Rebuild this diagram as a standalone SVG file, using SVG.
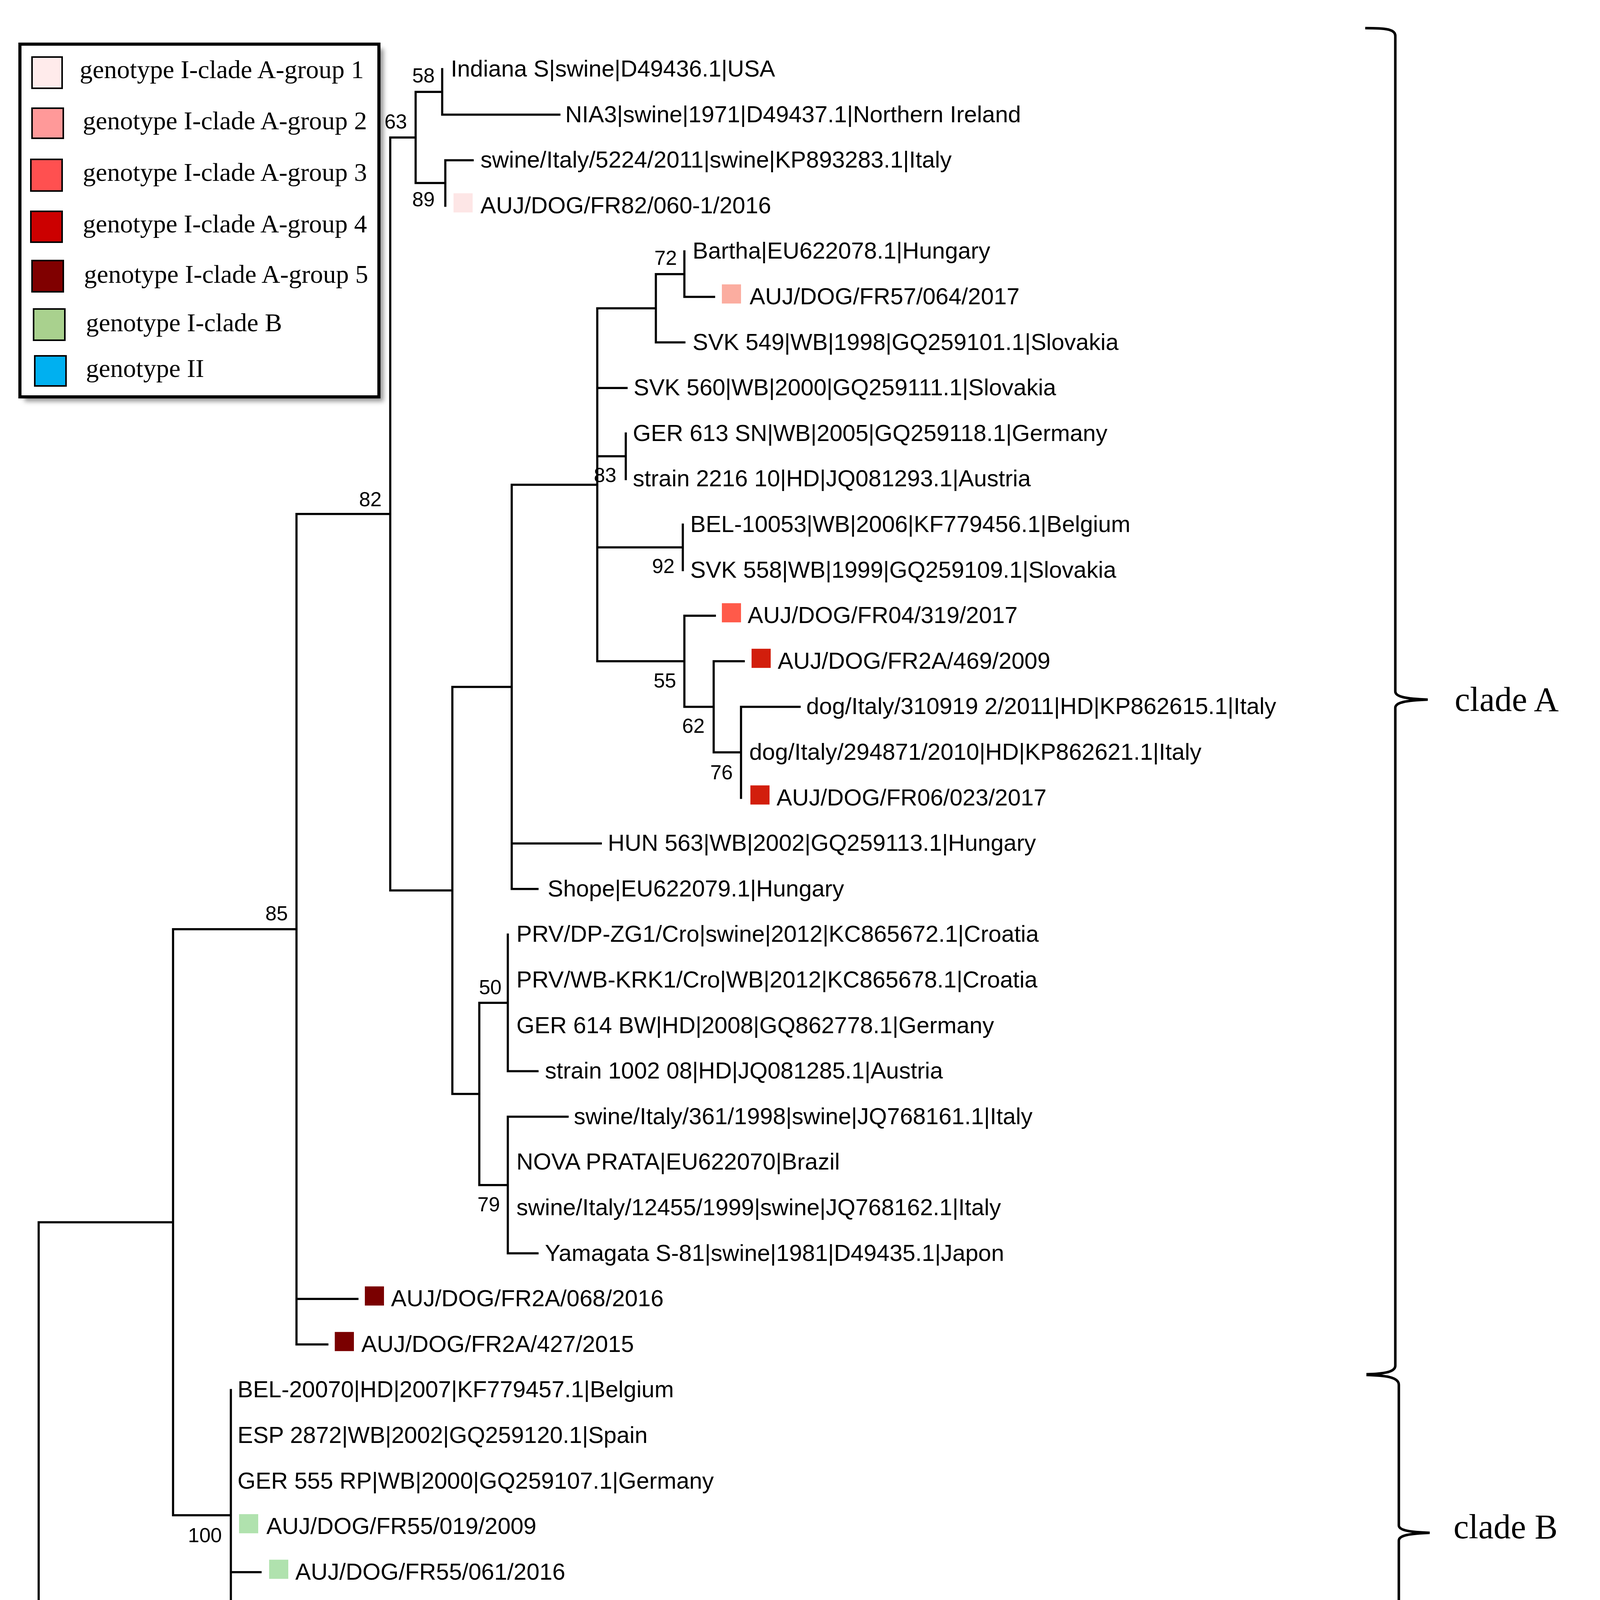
<svg xmlns="http://www.w3.org/2000/svg" width="4310" height="5361" viewBox="0 0 4310 5361">
<style>
.br{stroke:#000;stroke-width:5.5;fill:none;stroke-linecap:square}
.lf{font-family:"Liberation Sans",Arial,sans-serif;font-size:59.5px;fill:#000}
.bs{font-family:"Liberation Sans",Arial,sans-serif;font-size:52px;fill:#000;text-anchor:end}
.lg{font-family:"Liberation Serif","Times New Roman",serif;font-size:66px;fill:#000}
.cl{font-family:"Liberation Serif","Times New Roman",serif;font-size:88px;fill:#000}
.gt{font-family:"Liberation Serif","Times New Roman",serif;font-size:115px;font-weight:bold;fill:#FF0000}
.sq{stroke:#000;stroke-width:4}
.g1{fill:#FDE6E6}.g2{fill:#FBADA0}.g3{fill:#FF5A4A}.g4{fill:#D21E0C}.g5{fill:#7A0000}.gb{fill:#B0E2AE}.g2t{fill:#2196F3}
.brace{stroke:#000;stroke-width:6.5;fill:none}
</style>
<defs>
<filter id="sh" x="-5%" y="-5%" width="110%" height="110%"><feGaussianBlur stdDeviation="6"/></filter>
</defs>
<rect width="4310" height="5361" fill="#fff"/>
<g id="legend">
<rect x="63" y="125" width="919" height="903" fill="#999" filter="url(#sh)"/>
<rect x="51" y="113" width="919" height="903" fill="#fff" stroke="#000" stroke-width="8"/>
<rect class="sq" x="82" y="146" width="77" height="80" fill="#FFEBEB"/>
<rect class="sq" x="82" y="277" width="80" height="77" fill="#FF9999"/>
<rect class="sq" x="79" y="408" width="80" height="81" fill="#FF5050"/>
<rect class="sq" x="79" y="541" width="80" height="79" fill="#CC0000"/>
<rect class="sq" x="82" y="667" width="80" height="80" fill="#800000"/>
<rect class="sq" x="86" y="791" width="80" height="80" fill="#A9D18E"/>
<rect class="sq" x="89" y="911" width="80" height="77" fill="#00B0F0"/>
<text class="lg" x="204" y="200">genotype I-clade A-group 1</text>
<text class="lg" x="212" y="331">genotype I-clade A-group 2</text>
<text class="lg" x="212" y="463">genotype I-clade A-group 3</text>
<text class="lg" x="212" y="595">genotype I-clade A-group 4</text>
<text class="lg" x="215" y="724">genotype I-clade A-group 5</text>
<text class="lg" x="220" y="848">genotype I-clade B</text>
<text class="lg" x="220" y="965">genotype II</text>
</g>
<g id="connectors">
<path class="br" d="
M1132 177V293.6 M1140 410.2V526.8 M1064 235.3V468.5 M1752 643.4V760 M1679 701.7V876.6
M1602 1109.8V1226.4 M1748 1343V1459.6 M1897 1809.4V2042.6 M1827 1692.8V1926 M1752 1576.2V1809.4
M1529 789.2V1692.8 M1310 1241V2275.8 M1300 2392.4V2742.2 M1300 2858.8V3208.6 M1227 2567.3V3033.7
M1158 1758.4V2800.5 M999 351.9V2279.5 M759 1315.7V3441.8 M666 4141.4V4258 M591 3558.4V4199.7
M443 2378.8V3879 M1592 4957.6V5074.2 M664 4491.2V5015.9 M513 4374.6V4753.6 M99 3128.9V4564.1
M1064 235.3H1132 M1064 468.5H1140 M999 351.9H1064 M1679 701.7H1752 M1529 789.2H1679
M1529 1168.1H1602 M1529 1401.3H1748 M1827 1926H1897 M1752 1809.4H1827 M1529 1692.8H1752
M1310 1241H1529 M1158 1758.4H1310 M1227 2567.3H1300 M1227 3033.7H1300 M1158 2800.5H1227
M999 2279.5H1158 M759 1315.7H999 M443 2378.8H759 M591 4199.7H666 M443 3879H591
M99 3128.9H443 M664 5015.9H1592 M513 4753.6H664 M99 4564.1H513
M1132 293.6H1432 M1140 410.2H1210 M1752 760H1828 M1679 876.6H1752 M1529 993.2H1604
M1752 1576.2H1830 M1827 1692.8H1904 M1897 1809.4H2047 M1310 2159.2H1538 M1310 2275.8H1376
M1300 2742.2H1376 M1300 2858.8H1453 M1300 3208.6H1376 M759 3325.2H915 M759 3441.8H838
M591 4024.8H667 M666 4141.4H742 M513 4374.6H580 M664 4491.2H813 M664 4724.4H737
M1592 4957.6H1909 M1592 5074.2H2043"/>
</g>
<g id="leaves">
<g id="leaf1"><text class="lf" x="1154" y="196">Indiana S|swine|D49436.1|USA</text></g>
<g id="leaf2"><text class="lf" x="1447" y="312.6">NIA3|swine|1971|D49437.1|Northern Ireland</text></g>
<g id="leaf3"><text class="lf" x="1230" y="429.2">swine/Italy/5224/2011|swine|KP893283.1|Italy</text></g>
<g id="leaf4"><rect class="g1" x="1161" y="494.8" width="49" height="49"/><text class="lf" x="1230" y="545.8">AUJ/DOG/FR82/060-1/2016</text></g>
<g id="leaf5"><text class="lf" x="1773" y="662.4">Bartha|EU622078.1|Hungary</text></g>
<g id="leaf6"><rect class="g2" x="1848" y="728" width="49" height="49"/><text class="lf" x="1919" y="779">AUJ/DOG/FR57/064/2017</text></g>
<g id="leaf7"><text class="lf" x="1773" y="895.6">SVK 549|WB|1998|GQ259101.1|Slovakia</text></g>
<g id="leaf8"><text class="lf" x="1622" y="1012.2">SVK 560|WB|2000|GQ259111.1|Slovakia</text></g>
<g id="leaf9"><text class="lf" x="1620" y="1128.8">GER 613 SN|WB|2005|GQ259118.1|Germany</text></g>
<g id="leaf10"><text class="lf" x="1620" y="1245.4">strain 2216 10|HD|JQ081293.1|Austria</text></g>
<g id="leaf11"><text class="lf" x="1767" y="1362">BEL-10053|WB|2006|KF779456.1|Belgium</text></g>
<g id="leaf12"><text class="lf" x="1767" y="1478.6">SVK 558|WB|1999|GQ259109.1|Slovakia</text></g>
<g id="leaf13"><rect class="g3" x="1848" y="1544.2" width="49" height="49"/><text class="lf" x="1914" y="1595.2">AUJ/DOG/FR04/319/2017</text></g>
<g id="leaf14"><rect class="g4" x="1924" y="1660.8" width="49" height="49"/><text class="lf" x="1991" y="1711.8">AUJ/DOG/FR2A/469/2009</text></g>
<g id="leaf15"><text class="lf" x="2064" y="1828.4">dog/Italy/310919 2/2011|HD|KP862615.1|Italy</text></g>
<g id="leaf16"><text class="lf" x="1918" y="1945">dog/Italy/294871/2010|HD|KP862621.1|Italy</text></g>
<g id="leaf17"><rect class="g4" x="1921" y="2010.6" width="49" height="49"/><text class="lf" x="1988" y="2061.6">AUJ/DOG/FR06/023/2017</text></g>
<g id="leaf18"><text class="lf" x="1556" y="2178.2">HUN 563|WB|2002|GQ259113.1|Hungary</text></g>
<g id="leaf19"><text class="lf" x="1402" y="2294.8">Shope|EU622079.1|Hungary</text></g>
<g id="leaf20"><text class="lf" x="1322" y="2411.4">PRV/DP-ZG1/Cro|swine|2012|KC865672.1|Croatia</text></g>
<g id="leaf21"><text class="lf" x="1322" y="2528">PRV/WB-KRK1/Cro|WB|2012|KC865678.1|Croatia</text></g>
<g id="leaf22"><text class="lf" x="1322" y="2644.6">GER 614 BW|HD|2008|GQ862778.1|Germany</text></g>
<g id="leaf23"><text class="lf" x="1395" y="2761.2">strain 1002 08|HD|JQ081285.1|Austria</text></g>
<g id="leaf24"><text class="lf" x="1469" y="2877.8">swine/Italy/361/1998|swine|JQ768161.1|Italy</text></g>
<g id="leaf25"><text class="lf" x="1322" y="2994.4">NOVA PRATA|EU622070|Brazil</text></g>
<g id="leaf26"><text class="lf" x="1322" y="3111">swine/Italy/12455/1999|swine|JQ768162.1|Italy</text></g>
<g id="leaf27"><text class="lf" x="1395" y="3227.6">Yamagata S-81|swine|1981|D49435.1|Japon</text></g>
<g id="leaf28"><rect class="g5" x="934" y="3293.2" width="49" height="49"/><text class="lf" x="1001" y="3344.2">AUJ/DOG/FR2A/068/2016</text></g>
<g id="leaf29"><rect class="g5" x="857" y="3409.8" width="49" height="49"/><text class="lf" x="925" y="3460.8">AUJ/DOG/FR2A/427/2015</text></g>
<g id="leaf30"><text class="lf" x="608" y="3577.4">BEL-20070|HD|2007|KF779457.1|Belgium</text></g>
<g id="leaf31"><text class="lf" x="608" y="3694">ESP 2872|WB|2002|GQ259120.1|Spain</text></g>
<g id="leaf32"><text class="lf" x="608" y="3810.6">GER 555 RP|WB|2000|GQ259107.1|Germany</text></g>
<g id="leaf33"><rect class="gb" x="612" y="3876.2" width="49" height="49"/><text class="lf" x="682" y="3927.2">AUJ/DOG/FR55/019/2009</text></g>
<g id="leaf34"><rect class="gb" x="689" y="3992.8" width="49" height="49"/><text class="lf" x="756" y="4043.8">AUJ/DOG/FR55/061/2016</text></g>
<g id="leaf35"><rect class="gb" x="763" y="4109.4" width="49" height="49"/><text class="lf" x="832" y="4160.4">AUJ/DOG/FR55/447/2007</text></g>
<g id="leaf36"><rect class="gb" x="689" y="4226" width="49" height="49"/><text class="lf" x="756" y="4277">AUJ/DOG/FR55/549/2009</text></g>
<g id="leaf37"><rect class="g2t" x="603" y="4342.6" width="49" height="49"/><text class="lf" x="670" y="4393.6">AUJ/DOG/FR2A/016/2012</text></g>
<g id="leaf38"><rect class="g2t" x="836" y="4459.2" width="49" height="49"/><text class="lf" x="903" y="4510.2">AUJ/DOG/FR08/347/2017</text></g>
<g id="leaf39"><text class="lf" x="683" y="4626.8">swine/Italy/56/1987|swine|JQ768116.1|Italy</text></g>
<g id="leaf40"><text class="lf" x="756" y="4743.4">swine/Italy/2106/1996|swine|JQ768118|Italy</text></g>
<g id="leaf41"><text class="lf" x="683" y="4860">swine/Italy/900/1991|swine|JQ768117|Italy</text></g>
<g id="leaf42"><text class="lf" x="1927" y="4976.6">Ea|swine|1999|AF158090.1|China</text></g>
<g id="leaf43"><text class="lf" x="2060" y="5093.2">Fa|cow|1964|AF403051.1|China</text></g>
</g>
<g id="bootstrap">
<text class="bs" x="1113" y="211">58</text>
<text class="bs" x="1042" y="329">63</text>
<text class="bs" x="1113" y="528">89</text>
<text class="bs" x="977" y="1296">82</text>
<text class="bs" x="1733" y="678">72</text>
<text class="bs" x="1578" y="1234">83</text>
<text class="bs" x="1727" y="1467">92</text>
<text class="bs" x="1731" y="1760">55</text>
<text class="bs" x="1804" y="1876">62</text>
<text class="bs" x="1876" y="1995">76</text>
<text class="bs" x="737" y="2356">85</text>
<text class="bs" x="1284" y="2545">50</text>
<text class="bs" x="1280" y="3101">79</text>
<text class="bs" x="568" y="3948">100</text>
<text class="bs" x="644" y="4268">64</text>
<text class="bs" x="488" y="4631">100</text>
<text class="bs" x="641" y="4822">50</text>
<text class="bs" x="1573" y="5085">100</text>
</g>
<g id="scalebar">
<path class="br" style="stroke-linecap:butt" d="M343 5241H567 M345 5219V5264 M565 5219V5264"/>
<text class="bs" style="text-anchor:middle" x="455" y="5317">0.005</text>
</g>
<g id="cladeA">
<path class="brace" d="M3495 72 C3545 72 3572 74 3572 92 L3572 1770 C3572 1784 3600 1789 3655 1791 C3600 1793 3572 1798 3572 1812 L3572 3496 C3572 3512 3545 3517 3498 3518"/>
<text class="cl" x="3724" y="1820">clade A</text>
</g>
<g id="cladeB">
<path class="brace" d="M3498 3520 C3545 3521 3581 3525 3581 3545 L3581 3905 C3581 3918 3610 3922 3660 3924 C3610 3926 3581 3930 3581 3944 L3581 4303 C3581 4320 3545 4325 3498 4326"/>
<text class="cl" x="3721" y="3938">clade B</text>
</g>
<g id="genotypeI">
<rect x="4101" y="90" width="19" height="4238" fill="#FF0000"/>
<text class="gt" text-anchor="end" transform="translate(4225 2269) rotate(-90)">genotype I</text>
</g>
<g id="genotypeII">
<rect x="4101" y="4364" width="19" height="856" fill="#FF0000"/>
<text class="gt" text-anchor="end" transform="translate(4233 4531) rotate(-90)">genotype II</text>
</g>
</svg>
